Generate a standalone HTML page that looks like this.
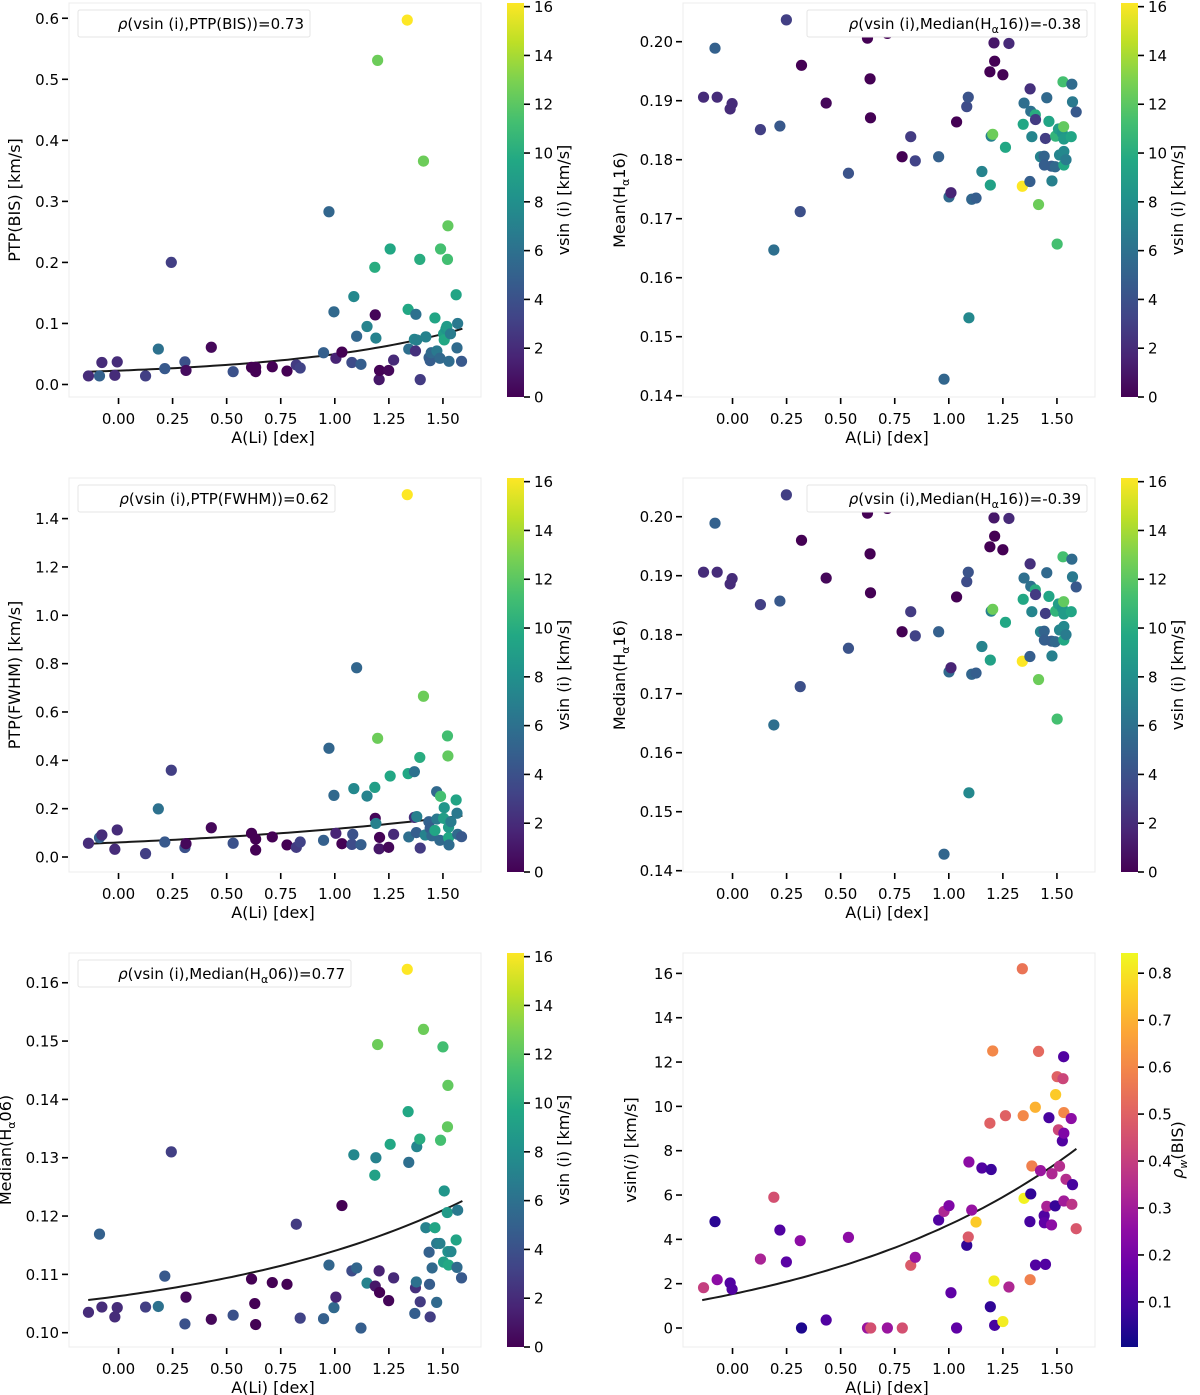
<!DOCTYPE html>
<html><head><meta charset="utf-8">
<style>
html,body{margin:0;padding:0;background:#fff;}
svg{display:block;font-family:"DejaVu Sans","Liberation Sans",sans-serif;}
</style></head>
<body>
<svg id="fig" width="1200" height="1395" viewBox="0 0 1200 1395" xmlns="http://www.w3.org/2000/svg">
<defs id="defs"></defs>
</svg>
<script>
// ---- Panel 1: PTP(BIS) ----
const A1=[-0.139,-0.088,-0.077,-0.017,-0.006,0.125,0.184,0.214,0.244,0.307,0.312,0.429,0.53,0.615,0.634,0.634,0.711,0.779,0.822,0.84,0.948,0.973,0.996,1.005,1.033,1.079,1.088,1.101,1.121,1.149,1.205,1.185,1.187,1.19,1.198,1.207,1.249,1.256,1.272,1.335,1.339,1.342,1.368,1.375,1.373,1.379,1.393,1.395,1.41,1.421,1.436,1.441,1.446,1.463,1.472,1.486,1.489,1.503,1.506,1.514,1.521,1.523,1.518,1.528,1.535,1.561,1.565,1.568,1.586];
const Y1=[0.014,0.014,0.036,0.015,0.037,0.014,0.058,0.026,0.2,0.037,0.023,0.061,0.021,0.028,0.021,0.028,0.029,0.022,0.032,0.027,0.052,0.283,0.119,0.043,0.053,0.036,0.144,0.079,0.033,0.095,0.008,0.192,0.114,0.076,0.531,0.023,0.023,0.222,0.04,0.597,0.123,0.058,0.074,0.115,0.055,0.073,0.205,0.008,0.366,0.078,0.044,0.039,0.052,0.109,0.055,0.043,0.222,0.083,0.073,0.091,0.205,0.26,0.095,0.038,0.083,0.147,0.06,0.1,0.038];
const C1=[2,5,2,2,2,3,6,4.5,3,4,0.5,0.3,4,0,0,0,0,0,2.8,3.2,4.9,5.3,5.5,1.6,0,3.7,7.5,5.3,4.8,7.2,1,10,0.2,7.1,12.5,0.1,0.3,9.6,1.9,16.2,9.6,5.9,7.3,6,2.2,7,10,2.8,12.5,7.1,5,4.7,5.5,9.5,6.5,5.5,11.3,9,9.7,8.4,11.2,12.2,8.8,5.7,6.7,9.4,5.6,6.5,4.5];
const YT1=[0.0,0.1,0.2,0.3,0.4,0.5,0.6];
const YL1=["0.0","0.1","0.2","0.3","0.4","0.5","0.6"];
const FIT1=[0.012,0.0107,1.26];

// ---- Panel 2: PTP(FWHM) ----
const A2=[-0.139,-0.088,-0.077,-0.017,-0.006,0.125,0.184,0.214,0.244,0.307,0.312,0.429,0.53,0.615,0.634,0.634,0.711,0.779,0.822,0.84,0.948,0.973,0.996,1.005,1.033,1.079,1.083,1.088,1.101,1.121,1.149,1.185,1.187,1.19,1.198,1.205,1.207,1.249,1.256,1.272,1.335,1.339,1.342,1.368,1.368,1.377,1.379,1.393,1.395,1.41,1.418,1.435,1.441,1.449,1.463,1.471,1.472,1.486,1.489,1.503,1.506,1.521,1.523,1.526,1.526,1.528,1.537,1.561,1.565,1.568,1.586];
const Y2=[0.057,0.08,0.091,0.032,0.112,0.014,0.199,0.062,0.359,0.039,0.055,0.121,0.057,0.098,0.074,0.029,0.083,0.05,0.04,0.062,0.069,0.45,0.255,0.098,0.055,0.052,0.094,0.283,0.783,0.051,0.252,0.288,0.16,0.139,0.491,0.034,0.081,0.04,0.335,0.094,1.499,0.345,0.083,0.353,0.164,0.101,0.167,0.412,0.037,0.665,0.091,0.146,0.119,0.088,0.11,0.27,0.157,0.069,0.251,0.16,0.204,0.501,0.418,0.08,0.123,0.05,0.146,0.236,0.181,0.094,0.084];
const C2=[2,5,2,2,2,3,6,4.5,3,4,0.3,0.3,4,0,0,0,0,0,2.8,3.2,4.9,5.3,5.5,1.6,0,3.7,4,7.5,5.3,4.8,7.2,9,0.2,7,12.5,1,0.1,0.3,9.6,1.9,16.2,9.6,5.9,6,2.2,4.8,7,10,2.8,12.5,7.1,5,4.7,5.5,9.5,5.5,6.5,5.5,11.3,9,8.4,11.2,12.2,9.7,8.8,5.7,6.7,9.4,6.5,5.6,4.5];
const YT2=[0.0,0.2,0.4,0.6,0.8,1.0,1.2,1.4];
const YL2=["0.0","0.2","0.4","0.6","0.8","1.0","1.2","1.4"];
const FIT2=[0,0.0603,0.656];

// ---- Panel 3: Median(Ha06) ----
const A3=[-0.139,-0.088,-0.077,-0.017,-0.006,0.125,0.184,0.214,0.244,0.307,0.312,0.429,0.53,0.615,0.63,0.634,0.711,0.779,0.822,0.84,0.948,0.973,0.996,1.005,1.033,1.079,1.088,1.101,1.121,1.149,1.185,1.187,1.19,1.198,1.205,1.207,1.249,1.256,1.272,1.335,1.339,1.342,1.37,1.373,1.377,1.379,1.393,1.395,1.41,1.421,1.436,1.438,1.441,1.45,1.463,1.471,1.471,1.486,1.489,1.5,1.503,1.506,1.52,1.521,1.523,1.523,1.526,1.537,1.561,1.565,1.568,1.586];
const Y3=[0.1035,0.1169,0.1044,0.1027,0.1043,0.1044,0.1045,0.1097,0.131,0.1015,0.1061,0.1023,0.103,0.1092,0.105,0.1014,0.1086,0.1083,0.1186,0.1025,0.1024,0.1116,0.1043,0.1061,0.1218,0.1106,0.1305,0.1111,0.1008,0.1085,0.127,0.108,0.13,0.1494,0.1106,0.1069,0.1055,0.1323,0.1094,0.1623,0.1379,0.1292,0.1033,0.1077,0.1087,0.1319,0.1332,0.1053,0.152,0.118,0.1138,0.1083,0.1027,0.1111,0.118,0.1153,0.1052,0.1153,0.133,0.149,0.1121,0.1243,0.1206,0.1353,0.1424,0.1139,0.1116,0.1139,0.1159,0.1112,0.121,0.1094];
const C3=[2,5,2,2,2,3,6,4.5,3,4,0.3,0.3,4,0,0,0,0,0,2.8,3.2,4.9,5.3,5.5,1.6,0,3.7,7.5,5.3,4.8,7.2,9.2,1,7.1,12.5,1.5,0,0.2,9.6,1.9,16.2,9.6,5.9,4.8,2.2,6,7.3,10,2.8,12.5,7.1,5,4.7,2.9,5.5,9.5,6.5,5.5,7,11.3,11.2,9,8.4,8.8,12.2,12.2,8,9.7,7.5,9.4,5.6,6.5,4.5];
const YT3=[0.10,0.11,0.12,0.13,0.14,0.15,0.16];
const YL3=["0.10","0.11","0.12","0.13","0.14","0.15","0.16"];
const FIT3=[0.10,0.00627,0.806];

// ---- Panel 4: Mean(Ha16) ----
const A4=[-0.134,-0.081,-0.071,-0.011,-0.002,0.129,0.219,0.249,0.313,0.319,0.191,0.433,0.536,0.624,0.636,0.638,0.716,0.784,0.824,0.845,0.953,0.978,1.001,1.01,1.036,1.083,1.09,1.093,1.106,1.126,1.153,1.19,1.192,1.196,1.203,1.209,1.212,1.25,1.262,1.278,1.34,1.344,1.348,1.375,1.376,1.379,1.384,1.4,1.401,1.415,1.424,1.441,1.442,1.447,1.453,1.463,1.475,1.477,1.492,1.494,1.501,1.507,1.512,1.525,1.528,1.531,1.532,1.532,1.532,1.542,1.566,1.569,1.572,1.589];
const Y4=[0.1906,0.1989,0.1906,0.1886,0.1895,0.1851,0.1857,0.2037,0.1712,0.196,0.1647,0.1896,0.1777,0.2006,0.1937,0.1871,0.2014,0.1805,0.1839,0.1798,0.1805,0.1428,0.1737,0.1744,0.1864,0.189,0.1906,0.1532,0.1733,0.1735,0.178,0.1949,0.1757,0.184,0.1843,0.1998,0.1967,0.1944,0.1821,0.1997,0.1755,0.186,0.1896,0.1763,0.192,0.1882,0.1839,0.1876,0.1868,0.1724,0.1805,0.1806,0.1791,0.1836,0.1905,0.1865,0.1789,0.1764,0.1788,0.184,0.1657,0.1852,0.1808,0.1845,0.1932,0.1856,0.1835,0.1791,0.1814,0.18,0.1839,0.1928,0.1898,0.1881];
const C4=[2,5,2,2,2,3,4.4,3,3.9,0,5.9,0.3,4.1,0,0,0,0,0,2.8,3.2,4.9,5.3,5.5,1.6,0,3.7,4.1,7.5,5.3,4.8,7.2,0,9.2,7.1,12.5,1,0,0,9.6,1.9,16.2,9.6,5.9,4.8,2.2,6,7.3,10,2.8,12.5,7.1,5.1,4.8,2.9,5.5,9.5,4.7,7,5.5,10.5,11.3,9,7.3,8.4,11.3,12.2,8.8,9.7,7.5,6.7,9.5,5.6,6.5,4.5];
const YT4=[0.14,0.15,0.16,0.17,0.18,0.19,0.20];
const YL4=["0.14","0.15","0.16","0.17","0.18","0.19","0.20"];

// ---- Panel 5: Median(Ha16) ----
const A5=A4.slice();
const Y5=Y4.slice();
const C5=C4.slice();
const YT5=YT4.slice();
const YL5=YL4.slice();

// ---- Panel 6: vsin(i) ----
const A6=[-0.134,-0.081,-0.071,-0.011,-0.002,0.129,0.191,0.219,0.249,0.313,0.319,0.433,0.536,0.624,0.639,0.716,0.785,0.824,0.845,0.953,0.978,1.001,1.01,1.036,1.083,1.09,1.093,1.106,1.126,1.153,1.19,1.192,1.196,1.203,1.209,1.212,1.25,1.262,1.278,1.34,1.344,1.348,1.375,1.376,1.379,1.384,1.4,1.401,1.415,1.424,1.441,1.442,1.447,1.453,1.463,1.475,1.477,1.492,1.494,1.501,1.507,1.512,1.525,1.528,1.531,1.532,1.532,1.532,1.542,1.566,1.569,1.572,1.589];
const V6=[1.82,4.8,2.18,2.03,1.75,3.11,5.9,4.42,2.98,3.94,0,0.36,4.09,0,0,0,0,2.83,3.19,4.87,5.26,5.52,1.59,0,3.73,4.11,7.49,5.32,4.78,7.22,9.24,0.96,7.15,12.5,2.12,0.12,0.29,9.58,1.85,16.21,9.58,5.85,4.8,2.18,6.05,7.31,9.96,2.84,12.48,7.1,5.07,4.75,2.87,5.49,9.49,4.65,6.96,5.51,10.53,11.34,8.94,7.3,8.44,11.25,12.24,8.79,9.72,5.73,6.71,9.45,5.58,6.47,4.48];
const R6=[0.4,0.05,0.25,0.12,0.12,0.32,0.45,0.12,0.14,0.25,0.03,0.12,0.25,0.28,0.45,0.28,0.45,0.48,0.27,0.12,0.33,0.22,0.15,0.15,0.06,0.48,0.25,0.27,0.75,0.12,0.5,0.06,0.08,0.6,0.82,0.1,0.82,0.5,0.33,0.55,0.6,0.83,0.1,0.58,0.06,0.58,0.7,0.12,0.52,0.28,0.12,0.15,0.12,0.32,0.1,0.25,0.33,0.07,0.75,0.5,0.42,0.35,0.12,0.42,0.12,0.22,0.6,0.3,0.35,0.25,0.37,0.1,0.47];
const YT6=[0,2,4,6,8,10,12,14,16];
const YL6=["0","2","4","6","8","10","12","14","16"];
const FIT6=[-1,2.53,0.804];

const XT=[0,0.25,0.5,0.75,1.0,1.25,1.5];
const XL=["0.00","0.25","0.50","0.75","1.00","1.25","1.50"];
const CBV=[0,2,4,6,8,10,12,14,16];
const CBVL=["0","2","4","6","8","10","12","14","16"];
const CBP=[0.1,0.2,0.3,0.4,0.5,0.6,0.7,0.8];
const CBPL=["0.1","0.2","0.3","0.4","0.5","0.6","0.7","0.8"];

const VIR=["#440154","#482475","#414487","#355f8d","#2a788e","#21918c","#22a884","#44bf70","#7ad151","#bddf26","#fde725"];
const PLA=["#0d0887","#41049d","#6a00a8","#8f0da4","#b12a90","#cc4778","#e16462","#f2844b","#fca636","#fcce25","#f0f921"];

const NS="http://www.w3.org/2000/svg";
const svg=document.getElementById('fig');
const defs=document.getElementById('defs');
function mk(tag,attrs,parent){const e=document.createElementNS(NS,tag);for(const k in attrs)e.setAttribute(k,attrs[k]);(parent||svg).appendChild(e);return e;}
function hex(h){return [parseInt(h.substr(1,2),16),parseInt(h.substr(3,2),16),parseInt(h.substr(5,2),16)];}
function cmap(stops,t){t=Math.max(0,Math.min(1,t));const f=t*(stops.length-1);const i=Math.min(stops.length-2,Math.floor(f));const u=f-i;const a=hex(stops[i]),b=hex(stops[i+1]);return 'rgb('+a.map((v,k)=>Math.round(v+(b[k]-v)*u)).join(',')+')';}
function grad(id,stops){const g=mk('linearGradient',{id:id,x1:0,y1:1,x2:0,y2:0},defs);stops.forEach((c,i)=>mk('stop',{offset:(i/(stops.length-1)),'stop-color':c},g));}
grad('gv',VIR);grad('gp',PLA);

const XMIN=-0.229,XMAX=1.676,W=412,H=394;

function panel(o){
  const g=mk('g',{});
  
  
  const L=o.left,T=o.top;
  const sx=v=>L+(v-XMIN)/(XMAX-XMIN)*W;
  const sy=v=>T+H-(v-o.ymin)/(o.ymax-o.ymin)*H;
  const fr=mk('rect',{x:L,y:T,width:W,height:H,fill:'#fff',stroke:'#ececec','stroke-width':1},g);
  
  
  // x ticks
  XT.forEach((v,i)=>{
    const x=sx(v);
    const t=mk('line',{x1:x,x2:x,y1:T+H+1,y2:T+H+7,stroke:'#000','stroke-width':1.6},g);
    
    
    const tl=mk('text',{x:x,y:T+H+27,'font-size':15,'text-anchor':'middle',fill:'#000'},g);
    tl.textContent=XL[i];
    
    
  });
  const xl=mk('text',{x:L+W/2-2,y:T+H+46,'font-size':16,'text-anchor':'middle',fill:'#000'},g);
  xl.textContent='A(Li) [dex]';
  
  
  // y ticks
  o.yt.forEach((v,i)=>{
    const y=sy(v);
    const t=mk('line',{x1:L-1,x2:L-7,y1:y,y2:y,stroke:'#000','stroke-width':1.6},g);
    
    
    const tl=mk('text',{x:L-10,y:y+5.5,'font-size':15,'text-anchor':'end',fill:'#000'},g);
    tl.textContent=o.yl[i];
    
    
  });
  const yl=mk('text',{x:o.ylx,y:T+H/2,'font-size':16,'text-anchor':'middle',fill:'#000',transform:'rotate(-90 '+o.ylx+' '+(T+H/2)+')'},g);
  yl.innerHTML=o.ytitle;
  
  
  // fit curve
  if(o.fit){
    let d='';
    for(let k=0;k<=60;k++){const a=-0.14+k*(1.59+0.14)/60;const v=o.fit[0]+o.fit[1]*Math.exp(o.fit[2]*a);d+=(k?'L':'M')+sx(a).toFixed(1)+','+sy(v).toFixed(1);}
    const p=mk('path',{d:d,fill:'none',stroke:'#1a1a1a','stroke-width':2},g);
    
    
  }
  // points
  o.xs.forEach((a,i)=>{
    const c=mk('circle',{cx:sx(a),cy:sy(o.ys[i]),r:5.6,fill:cmap(o.stops,(o.cs[i]-o.cmin)/(o.cmax-o.cmin))},g);
    
    
  });
  // legend
  if(o.leg){
    const lb=mk('rect',{x:o.leg[0],y:T+7,width:o.leg[1]-o.leg[0],height:27,rx:2,fill:'#fff',stroke:'#e4e4e4','stroke-width':1},g);
    
    
    const lt=mk('text',{x:o.leg[1]-6,y:T+26,'font-size':15,'text-anchor':'end',fill:'#000'},g);
    lt.innerHTML=o.legtext;
    
    
  }
  // colorbar
  const cbx=L+W+26;
  const cb=mk('rect',{x:cbx,y:T,width:17,height:H,fill:'url(#'+o.grad+')'},g);
  
  
  o.cbt.forEach((v,i)=>{
    const y=T+H-(v-o.cmin)/(o.cmax-o.cmin)*H;
    const t=mk('line',{x1:cbx+17,x2:cbx+23,y1:y,y2:y,stroke:'#000','stroke-width':1.6},g);
    
    
    const tl=mk('text',{x:cbx+27,y:y+5.5,'font-size':15,fill:'#000'},g);
    tl.textContent=o.cbl[i];
    
    
  });
  const cx=cbx+62;
  const ct=mk('text',{x:cx,y:T+H/2,'font-size':16,'text-anchor':'middle',fill:'#000',transform:'rotate(-90 '+cx+' '+(T+H/2)+')'},g);
  ct.innerHTML=o.cbtitle;
  
  
}

const vcb={grad:'gv',stops:VIR,cmin:0,cmax:16.15,cbt:CBV,cbl:CBVL,cbtitle:'vsin (i) [km/s]'};
const sub='<tspan font-size="11" dy="4">α</tspan><tspan dy="-4">';
panel(Object.assign({name:'panel-ptp-bis',left:69,top:3,ymin:-0.0205,ymax:0.625,yt:YT1,yl:YL1,ylx:20,ytitle:'PTP(BIS) [km/s]',xs:A1,ys:Y1,cs:C1,fit:FIT1,leg:[78,310],legtext:'<tspan font-style="italic">ρ</tspan>(vsin (i),PTP(BIS))=0.73'},vcb));
panel(Object.assign({name:'panel-mean-halpha16',left:683,top:3,ymin:0.13978,ymax:0.20656,yt:YT4,yl:YL4,ylx:625,ytitle:'Mean(H'+sub+'16)</tspan>',xs:A4,ys:Y4,cs:C4,leg:[807,1087],legtext:'<tspan font-style="italic">ρ</tspan>(vsin (i),Median(H'+sub+'16))=-0.38</tspan>'},vcb));
panel(Object.assign({name:'panel-ptp-fwhm',left:69,top:478,ymin:-0.062,ymax:1.568,yt:YT2,yl:YL2,ylx:20,ytitle:'PTP(FWHM) [km/s]',xs:A2,ys:Y2,cs:C2,fit:FIT2,leg:[78,335],legtext:'<tspan font-style="italic">ρ</tspan>(vsin (i),PTP(FWHM))=0.62'},vcb));
panel(Object.assign({name:'panel-median-halpha16',left:683,top:478,ymin:0.13978,ymax:0.20656,yt:YT5,yl:YL5,ylx:625,ytitle:'Median(H'+sub+'16)</tspan>',xs:A5,ys:Y5,cs:C5,leg:[807,1087],legtext:'<tspan font-style="italic">ρ</tspan>(vsin (i),Median(H'+sub+'16))=-0.39</tspan>'},vcb));
panel(Object.assign({name:'panel-median-halpha06',left:69,top:953,ymin:0.09755,ymax:0.1651,yt:YT3,yl:YL3,ylx:11,ytitle:'Median(H'+sub+'06)</tspan>',xs:A3,ys:Y3,cs:C3,fit:FIT3,leg:[78,351],legtext:'<tspan font-style="italic">ρ</tspan>(vsin (i),Median(H'+sub+'06))=0.77</tspan>'},vcb));
panel({name:'panel-vsini',left:683,top:953,ymin:-0.857,ymax:16.92,yt:YT6,yl:YL6,ylx:636,ytitle:'vsin(<tspan font-style="italic">i</tspan>) [km/s]',xs:A6,ys:V6,cs:R6,fit:FIT6,grad:'gp',stops:PLA,cmin:0.004,cmax:0.843,cbt:CBP,cbl:CBPL,cbtitle:'<tspan font-style="italic">ρ</tspan><tspan font-size="11" dy="4" font-style="italic">w</tspan><tspan dy="-4">(BIS)</tspan>'});
</script>
</body></html>
